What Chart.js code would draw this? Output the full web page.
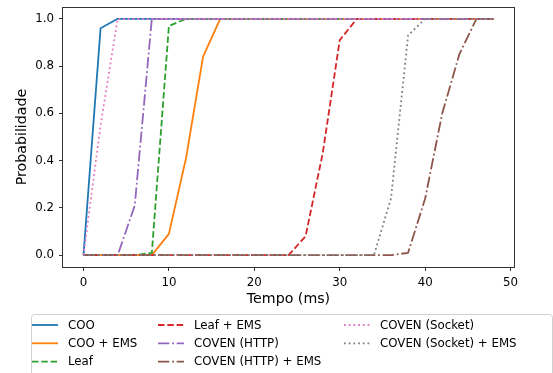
<!DOCTYPE html>
<html>
<head>
<meta charset="utf-8">
<script src="https://cdn.jsdelivr.net/npm/chart.js@4/dist/chart.umd.min.js"></script>
<style>
  html, body { margin: 0; padding: 0; background: #ffffff; }
  #wrap { width: 553px; height: 373px; position: relative; }
</style>
</head>
<body>
<div id="wrap"><canvas id="cdf" width="553" height="373"></canvas></div>
<script>
// Sample times (ms)
const tempo = [0, 2, 4, 6, 8, 10, 12, 14, 16, 18, 20, 22, 24, 26, 28, 30, 32, 34, 36, 38, 40, 42, 44, 46, 48];

// Cumulative probability per configuration
const coo            = [0, 0.96, 1, 1, 1, 1, 1, 1, 1, 1, 1, 1, 1, 1, 1, 1, 1, 1, 1, 1, 1, 1, 1, 1, 1];
const cooEms         = [0, 0, 0, 0, 0, 0.09, 0.41, 0.84, 1, 1, 1, 1, 1, 1, 1, 1, 1, 1, 1, 1, 1, 1, 1, 1, 1];
const leaf           = [0, 0, 0, 0, 0.01, 0.97, 1, 1, 1, 1, 1, 1, 1, 1, 1, 1, 1, 1, 1, 1, 1, 1, 1, 1, 1];
const leafEms        = [0, 0, 0, 0, 0, 0, 0, 0, 0, 0, 0, 0, 0, 0.08, 0.43, 0.91, 1, 1, 1, 1, 1, 1, 1, 1, 1];
const covenHttp      = [0, 0, 0, 0.21, 1, 1, 1, 1, 1, 1, 1, 1, 1, 1, 1, 1, 1, 1, 1, 1, 1, 1, 1, 1, 1];
const covenHttpEms   = [0, 0, 0, 0, 0, 0, 0, 0, 0, 0, 0, 0, 0, 0, 0, 0, 0, 0, 0, 0.01, 0.24, 0.6, 0.85, 1, 1];
const covenSocket    = [0, 0.55, 1, 1, 1, 1, 1, 1, 1, 1, 1, 1, 1, 1, 1, 1, 1, 1, 1, 1, 1, 1, 1, 1, 1];
const covenSocketEms = [0, 0, 0, 0, 0, 0, 0, 0, 0, 0, 0, 0, 0, 0, 0, 0, 0, 0, 0.24, 0.93, 1, 1, 1, 1, 1];

// Axis ticks
const xTicks = [0, 10, 20, 30, 40, 50];
const yTicks = [0, 0.2, 0.4, 0.6, 0.8, 1.0];

// Line styles (px)
const LW = 1.8;
const SOLID = [];
const DASHED = [6.5, 2.8];
const DASHDOT = [11.3, 2.8, 1.8, 2.8];
const DOTTED = [1.8, 2.9];

const series = [
  { label: 'COO',                  values: coo,            color: '#1f77b4', dash: SOLID },
  { label: 'COO + EMS',            values: cooEms,         color: '#ff7f0e', dash: SOLID },
  { label: 'Leaf',                 values: leaf,           color: '#2ca02c', dash: DASHED },
  { label: 'Leaf + EMS',           values: leafEms,        color: '#d62728', dash: DASHED },
  { label: 'COVEN (HTTP)',         values: covenHttp,      color: '#9467bd', dash: DASHDOT },
  { label: 'COVEN (HTTP) + EMS',   values: covenHttpEms,   color: '#8c564b', dash: DASHDOT },
  { label: 'COVEN (Socket)',       values: covenSocket,    color: '#e377c2', dash: DOTTED },
  { label: 'COVEN (Socket) + EMS', values: covenSocketEms, color: '#7f7f7f', dash: DOTTED }
];

const FONT = "'DejaVu Sans', 'Liberation Sans', sans-serif";

const datasets = series.map((s, i) => ({
  label: s.label,
  data: tempo.map((t, k) => ({ x: t, y: s.values[k] })),
  borderColor: s.color,
  backgroundColor: s.color,
  borderWidth: LW,
  borderDash: s.dash,
  borderCapStyle: 'butt',
  borderJoinStyle: 'round',
  pointRadius: 0,
  pointHoverRadius: 0,
  tension: 0,
  fill: false,
  order: series.length - i   // later series drawn on top
}));

// Full frame around the plotting area
const frame = {
  id: 'frame',
  afterDatasetsDraw(chart) {
    const { ctx, chartArea: a } = chart;
    ctx.save();
    ctx.strokeStyle = '#333333';
    ctx.lineWidth = 1;
    ctx.strokeRect(Math.round(a.left) - 0.5, Math.round(a.top) + 0.5,
                   Math.round(a.right - a.left) + 1, Math.round(a.bottom - a.top));
    ctx.restore();
  }
};

// Three-column legend below the axes, filled column by column
const columnLegend = {
  id: 'columnLegend',
  afterDraw(chart) {
    const { ctx } = chart;
    const box = { left: 31.5, top: 314.5, right: 552.5, bottom: 390 };
    const textX = [68, 194, 380];
    const rowY = [325, 343.3, 361.7];
    const perCol = 3;
    ctx.save();
    const r = 3;
    ctx.beginPath();
    ctx.moveTo(box.left + r, box.top);
    ctx.lineTo(box.right - r, box.top);
    ctx.quadraticCurveTo(box.right, box.top, box.right, box.top + r);
    ctx.lineTo(box.right, box.bottom);
    ctx.lineTo(box.left, box.bottom);
    ctx.lineTo(box.left, box.top + r);
    ctx.quadraticCurveTo(box.left, box.top, box.left + r, box.top);
    ctx.closePath();
    ctx.fillStyle = 'rgba(255,255,255,0.8)';
    ctx.fill();
    ctx.strokeStyle = '#d0d0d0';
    ctx.lineWidth = 1;
    ctx.stroke();

    ctx.font = '11.8px ' + FONT;
    ctx.textBaseline = 'middle';
    ctx.textAlign = 'left';
    chart.data.datasets.forEach((ds, i) => {
      const col = Math.floor(i / perCol);
      const row = i % perCol;
      const tx = textX[col];
      const y = rowY[row];
      ctx.beginPath();
      ctx.strokeStyle = ds.borderColor;
      ctx.lineWidth = LW;
      ctx.lineCap = 'butt';
      ctx.setLineDash(ds.borderDash);
      ctx.moveTo(tx - 36, y);
      ctx.lineTo(tx - 10, y);
      ctx.stroke();
      ctx.setLineDash([]);
      ctx.fillStyle = '#000000';
      ctx.fillText(ds.label, tx, y + 0.5);
    });
    ctx.restore();
  }
};

// Keep the axes at fixed sizes without extra label padding
function fixScale(size, horizontal) {
  return function (scale) {
    if (horizontal) scale.height = size; else scale.width = size;
    scale.paddingTop = 0;
    scale.paddingBottom = 0;
    scale.paddingLeft = 0;
    scale.paddingRight = 0;
  };
}

new Chart(document.getElementById('cdf'), {
  type: 'line',
  data: { datasets },
  plugins: [frame, columnLegend],
  options: {
    responsive: false,
    animation: false,
    devicePixelRatio: 1,
    layout: { padding: { left: 0, right: 39, top: 7, bottom: 65 } },
    plugins: {
      legend: { display: false },
      tooltip: { enabled: false },
      title: { display: false }
    },
    scales: {
      x: {
        type: 'linear',
        min: -2.4,
        max: 50.4,
        afterFit: fixScale(41, true),
        afterBuildTicks(scale) { scale.ticks = xTicks.map(v => ({ value: v })); },
        border: { display: false },
        grid: { display: true, drawOnChartArea: false, drawTicks: true, tickLength: 4, tickWidth: 1, tickColor: '#333333' },
        ticks: {
          padding: 5,
          maxRotation: 0,
          autoSkip: false,
          color: '#000000',
          font: { family: FONT, size: 11.8 },
          callback: v => String(v)
        },
        title: {
          display: true,
          text: 'Tempo (ms)',
          color: '#000000',
          font: { family: FONT, size: 14.2, lineHeight: 1.2 },
          padding: { top: 0, bottom: 0 }
        }
      },
      y: {
        type: 'linear',
        min: -0.05,
        max: 1.05,
        afterFit: fixScale(63, false),
        afterBuildTicks(scale) { scale.ticks = yTicks.map(v => ({ value: v })); },
        border: { display: false },
        grid: { display: true, drawOnChartArea: false, drawTicks: true, tickLength: 4, tickWidth: 1, tickColor: '#333333' },
        ticks: {
          padding: 5,
          autoSkip: false,
          color: '#000000',
          font: { family: FONT, size: 11.8 },
          callback: v => Number(v).toFixed(1)
        },
        title: {
          display: true,
          text: 'Probabilidade',
          color: '#000000',
          font: { family: FONT, size: 14.2, lineHeight: 1.2 },
          padding: { top: 13.5, bottom: 0 }
        }
      }
    }
  }
});
</script>
</body>
</html>
